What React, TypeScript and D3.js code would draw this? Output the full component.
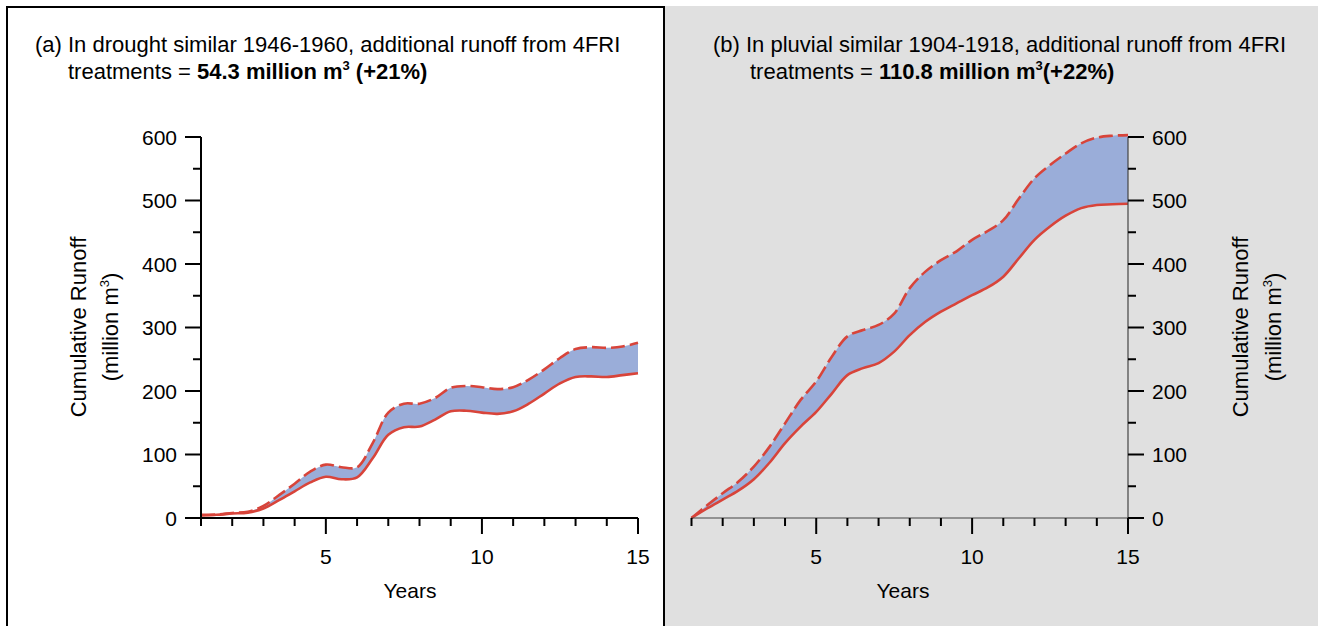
import { useEffect } from 'react';
import * as d3 from 'd3';

// half-year readings, million m3
const years = [1, 1.5, 2, 2.5, 3, 3.5, 4, 4.5, 5, 5.5, 6, 6.5, 7, 7.5, 8, 8.5, 9, 9.5, 10, 10.5, 11, 11.5, 12, 12.5, 13, 13.5, 14, 14.5, 15];

const droughtBase = [4, 5, 7, 8.5, 15, 28, 42, 56, 65, 61, 64, 94, 131, 143, 144, 155, 168, 169, 166, 164, 168, 180, 196, 212, 222, 223, 222, 225, 228];
const droughtTreat = [5, 5.5, 8, 10, 19, 36, 54, 73, 84, 80, 80, 118, 166, 180, 180, 189, 205, 208, 206, 203, 206, 218, 234, 252, 266, 269, 268, 270, 276];

const pluvialBase = [0, 15, 29, 43, 61, 87, 118, 144, 167, 196, 225, 236, 244, 262, 288, 309, 325, 338, 351, 363, 380, 409, 438, 459, 476, 488, 493, 494, 495];
const pluvialTreat = [0, 20, 39, 57, 81, 112, 149, 186, 215, 254, 286, 296, 304, 322, 362, 388, 406, 420, 438, 452, 469, 503, 535, 556, 574, 590, 599, 602, 603];

const yTicks = [0, 100, 200, 300, 400, 500, 600];
const yMinorTicks = [50, 150, 250, 350, 450, 550];
const xLabelTicks = [5, 10, 15];
const xMinorTicks = [1, 2, 3, 4, 6, 7, 8, 9, 11, 12, 13, 14];

const titleLeft = ['(a) In drought similar 1946-1960, additional runoff from 4FRI', '54.3 million m', ' (+21%)'];
const titleRight = ['(b) In pluvial similar 1904-1918, additional runoff from 4FRI', '110.8 million m', '(+22%)'];

const FONT = 'Liberation Sans, Arial, sans-serif';
const RED = '#d8443a';
const FILL = '#9aadd9';

interface PanelProps {
  xStart: number;
  xEnd: number;
  base: number[];
  treat: number[];
  side: 'left' | 'right';
  title: string[];
  titleX: number;
  line2X: number;
  axisColor: string;
  axisWidth: number;
}

const Panel = ({ xStart, xEnd, base, treat, side, title, titleX, line2X, axisColor, axisWidth }: PanelProps) => {
  const x = d3.scaleLinear().domain([1, 15]).range([xStart, xEnd]);
  const y = d3.scaleLinear().domain([0, 600]).range([518, 137]);

  const area = d3.area<number>()
    .x((_, i) => x(years[i]))
    .y0((_, i) => y(base[i]))
    .y1((_, i) => y(treat[i]))
    .curve(d3.curveCatmullRom);
  const line = (vals: number[]) => d3.line<number>()
    .x((_, i) => x(years[i]))
    .y((d) => y(d))
    .curve(d3.curveCatmullRom)(vals) || '';

  const axisX = side === 'left' ? xStart : xEnd;
  const dir = side === 'left' ? -1 : 1;
  const titleMid = 327;
  const t1x = side === 'left' ? 86 : 1248;
  const t2x = side === 'left' ? 118 : 1281;

  return (
    <g fontFamily={FONT} fill="#000">
      <text x={titleX} y={52} fontSize={22}>{title[0]}</text>
      <text x={line2X} y={79} fontSize={22}>
        treatments = <tspan fontWeight="bold">{title[1]}</tspan>
        <tspan fontSize={13} dy={-9} fontWeight="bold">3</tspan>
        <tspan dy={9} fontWeight="bold">{title[2]}</tspan>
      </text>

      <path d={area(base) || ''} fill={FILL} />
      <path d={line(base)} fill="none" stroke={RED} strokeWidth={2.6} />
      <path d={line(treat)} fill="none" stroke={RED} strokeWidth={2.6} strokeDasharray="14 5" />

      {/* x axis */}
      <line x1={xStart} x2={xEnd} y1={y(0)} y2={y(0)} stroke={axisColor} strokeWidth={axisWidth} />
      {xMinorTicks.map((t) => (
        <line key={t} x1={x(t)} x2={x(t)} y1={y(0)} y2={y(0) + 8} stroke="#000" strokeWidth={2} />
      ))}
      {xLabelTicks.map((t) => (
        <g key={t}>
          <line x1={x(t)} x2={x(t)} y1={y(0)} y2={y(0) + 16} stroke="#000" strokeWidth={2} />
          <text x={x(t)} y={564} fontSize={21} textAnchor="middle">{t}</text>
        </g>
      ))}
      <text x={side === 'left' ? 410 : 903} y={598} fontSize={21} textAnchor="middle">Years</text>

      {/* y axis */}
      <line x1={axisX} x2={axisX} y1={y(0)} y2={y(600)} stroke={axisColor} strokeWidth={axisWidth} />
      {yMinorTicks.map((t) => (
        <line key={t} x1={axisX} x2={axisX + dir * 8} y1={y(t)} y2={y(t)} stroke="#000" strokeWidth={2} />
      ))}
      {yTicks.map((t) => (
        <g key={t}>
          <line x1={axisX} x2={axisX + dir * 16} y1={y(t)} y2={y(t)} stroke="#000" strokeWidth={2} />
          <text x={axisX + dir * 24} y={y(t) + 7.5} fontSize={21} textAnchor={side === 'left' ? 'end' : 'start'}>{t}</text>
        </g>
      ))}
      <text transform={`translate(${t1x},${titleMid}) rotate(-90)`} fontSize={22} textAnchor="middle">Cumulative Runoff</text>
      <text transform={`translate(${t2x},${titleMid}) rotate(-90)`} fontSize={22} textAnchor="middle">
        (million m<tspan fontSize={13} dy={-9}>3</tspan><tspan dy={9}>)</tspan>
      </text>
    </g>
  );
};

const App = () => {
  useEffect(() => {
    document.body.style.margin = '0';
    document.body.style.overflow = 'hidden';
  }, []);

  return (
    <svg width={1318} height={626} style={{ display: 'block' }}>
      <rect x={0} y={0} width={1318} height={626} fill="#fff" />
      <rect x={665} y={6} width={653} height={640} fill="#e0e0e0" />
      <rect x={7} y={7} width={657} height={640} fill="none" stroke="#000" strokeWidth={2} />
      <Panel xStart={201} xEnd={638} base={droughtBase} treat={droughtTreat} side="left"
        title={titleLeft} titleX={35} line2X={68} axisColor="#000" axisWidth={2} />
      <Panel xStart={691.5} xEnd={1128} base={pluvialBase} treat={pluvialTreat} side="right"
        title={titleRight} titleX={713} line2X={750} axisColor="#444" axisWidth={1.2} />
    </svg>
  );
};

export default App;
